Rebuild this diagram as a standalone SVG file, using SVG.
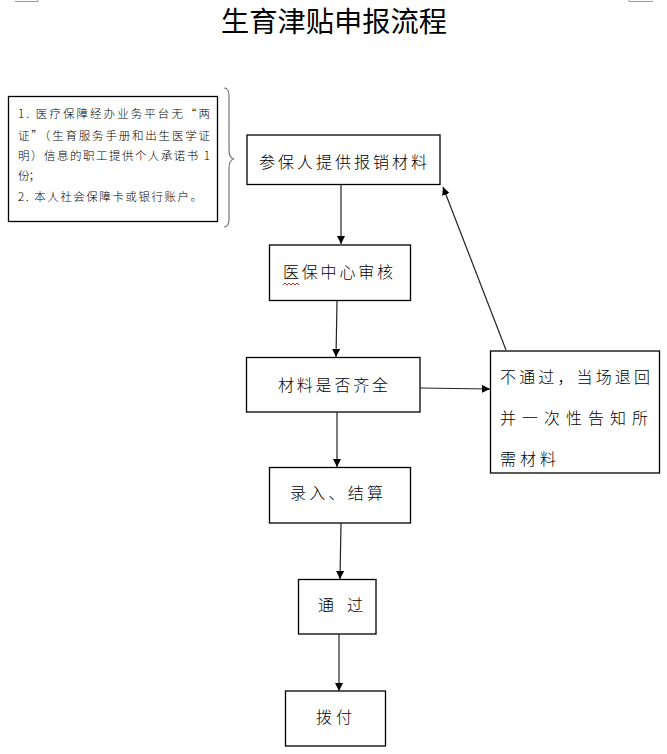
<svg xmlns="http://www.w3.org/2000/svg" width="667" height="754" viewBox="0 0 667 754">
<style>
.box{fill:#fff;stroke:#000;stroke-width:1.3}
.t{font-family:"Noto Sans CJK SC","Liberation Sans",sans-serif;font-size:16px;font-weight:300;fill:#000}
.n{font-family:"Noto Sans CJK SC","Liberation Sans",sans-serif;font-size:11.5px;font-weight:300;fill:#000}
.c{stroke:#222;stroke-width:1.2;fill:none;marker-end:url(#ah)}
.mark{stroke:#999;stroke-width:1;fill:none}
</style>
<defs>
<marker id="ah" viewBox="0 0 10 10" refX="10" refY="5" markerWidth="8" markerHeight="8" markerUnits="userSpaceOnUse" orient="auto">
<path d="M0,0 L10,5 L0,10 z" fill="#000"/>
</marker>
</defs>
<rect width="667" height="754" fill="#fff"/>
<path class="mark" d="M15,1.5 H38 V0"/>
<path class="mark" d="M629,0 V1.5 H653"/>
<text x="334" y="32" text-anchor="middle" font-family="Noto Sans CJK SC, sans-serif" font-size="28" fill="#000" textLength="226" lengthAdjust="spacingAndGlyphs">生育津贴申报流程</text>

<g id="note">
<rect class="box" x="8.5" y="96.5" width="209" height="125"/>
<text class="n" x="18" y="118" textLength="192" lengthAdjust="spacing">1. 医疗保障经办业务平台无“两</text>
<text class="n" x="18" y="140" textLength="192" lengthAdjust="spacing">证”（生育服务手册和出生医学证</text>
<text class="n" x="18" y="160" textLength="192" lengthAdjust="spacing">明）信息的职工提供个人承诺书 1</text>
<text class="n" x="18" y="180" textLength="22" lengthAdjust="spacing">份；</text>
<text class="n" x="18" y="201" textLength="184" lengthAdjust="spacing">2. 本人社会保障卡或银行账户。</text>
</g>
<g id="brace">
<path d="M224,88 Q229,88 229,96 V150 Q229,158 234,159 Q229,160 229,168 V219 Q229,227 224,227" fill="none" stroke="#777" stroke-width="1.2"/>
</g>

<g id="n1">
<rect class="box" x="247" y="135" width="193" height="49.5"/>
<text class="t" x="259" y="168" textLength="168" lengthAdjust="spacing">参保人提供报销材料</text>
</g>
<g id="n2">
<rect class="box" x="269.5" y="245" width="141" height="55.5"/>
<text class="t" x="283" y="278" textLength="110" lengthAdjust="spacing">医保中心审核</text>
<path d="M283,285 l2,-2 l2,2 l2,-2 l2,2 l2,-2 l2,2 l2,-2 l2,2" fill="none" stroke="#e00" stroke-width="0.9"/>
</g>
<g id="n3">
<rect class="box" x="246.5" y="357.5" width="173.5" height="54.5"/>
<text class="t" x="278" y="391" textLength="110" lengthAdjust="spacing">材料是否齐全</text>
</g>
<g id="n4">
<rect class="box" x="490.5" y="351" width="169" height="122"/>
<text class="t" x="500" y="383" textLength="150" lengthAdjust="spacing">不通过，当场退回</text>
<text class="t" x="500" y="424" textLength="148" lengthAdjust="spacing">并一次性告知所</text>
<text class="t" x="500" y="465" textLength="56" lengthAdjust="spacing">需材料</text>
</g>
<g id="n5">
<rect class="box" x="269.5" y="467.5" width="141" height="55.5"/>
<text class="t" x="290" y="499" textLength="93" lengthAdjust="spacing">录入、结算</text>
</g>
<g id="n6">
<rect class="box" x="298.5" y="579.5" width="77.5" height="54.5"/>
<text class="t" x="318" y="611">通</text>
<text class="t" x="347" y="611">过</text>
</g>
<g id="n7">
<rect class="box" x="285.5" y="691" width="100" height="55"/>
<text class="t" x="316" y="723" textLength="36" lengthAdjust="spacing">拨付</text>
</g>

<g id="connectors">
<path class="c" d="M341,185 L341,244"/>
<path class="c" d="M337,301 L336,357"/>
<path class="c" d="M420,388 L490,389"/>
<path class="c" d="M506,350 L443,187"/>
<path class="c" d="M337,412 L337,467"/>
<path class="c" d="M341,523 L340,579"/>
<path class="c" d="M339,634 L339,691"/>
</g>
</svg>
